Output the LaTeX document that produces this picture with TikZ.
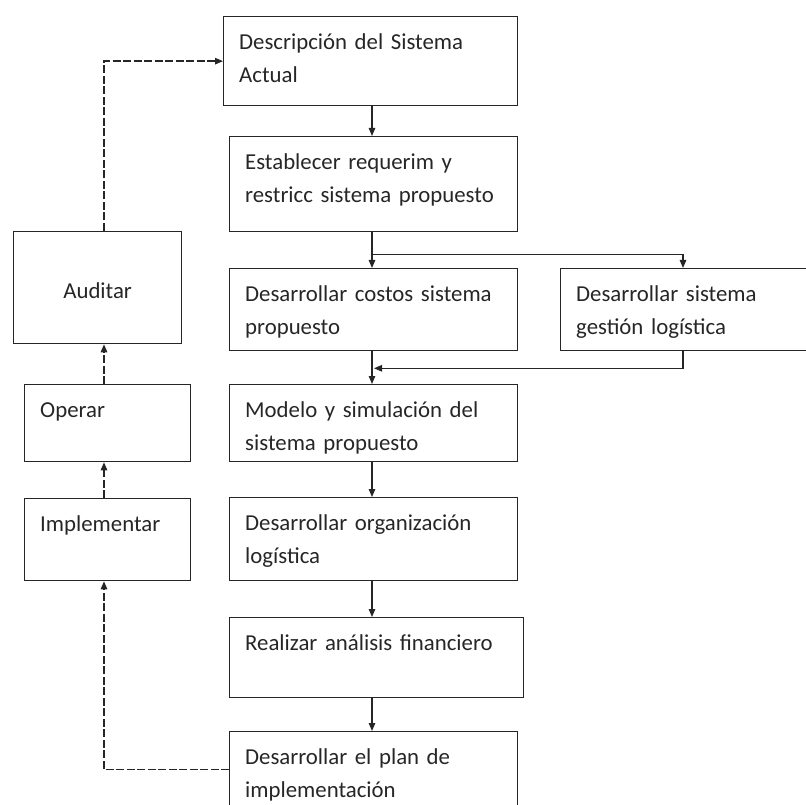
\documentclass[tikz,border=0pt]{standalone}
\usepackage{fontspec}
\setmainfont{Carlito}
\usetikzlibrary{arrows.meta,calc}
\definecolor{ink}{HTML}{262626}
\definecolor{txtc}{HTML}{262626}
\tikzset{
  box/.style={draw=ink, line width=1.3pt, rectangle, inner sep=0pt, anchor=north west},
  btext/.style={anchor=north west, inner sep=0pt, align=left, text=txtc,
    font=\fontsize{22.8}{33}\selectfont},
  flow/.style={draw=ink, line width=1.3pt, -{Triangle[length=8pt,width=6.5pt]}},
  back/.style={draw=ink, line width=1.3pt, dash pattern=on 8pt off 2.5pt,
    -{Triangle[length=8pt,width=6.5pt]}},
}
% a named rectangle with its text set at the upper left
\newcommand\stepcard[6]{%
  \node[box, minimum width=#4pt, minimum height=#5pt] (#1) at (#2,#3) {};
  \node[btext, text width=#4pt-18pt] (#1-t) at ($(#1.north west)+(16,10)$) {\strut #6};
}
\begin{document}
\begin{tikzpicture}[x=1pt,y=-1pt]
\useasboundingbox (0,0) rectangle (806,805);
\clip (0,0) rectangle (806,805);

% main column
\stepcard{desc}{223}{16}{294}{89}{Descripción del Sistema\\Actual}
\stepcard{req}{229}{136}{288}{95}{Establecer requerim y\\restricc sistema propuesto}
\stepcard{cost}{229}{268}{288}{82}{Desarrollar costos sistema\\propuesto}
\stepcard{gest}{560}{268}{260}{82}{Desarrollar sistema\\gestión logística}
\stepcard{mod}{229}{384}{288}{77}{Modelo y simulación del\\sistema propuesto}
\stepcard{org}{229}{497}{288}{83}{Desarrollar organización\\logística}
\stepcard{fin}{229}{617}{294}{80}{Realizar análisis financiero}
\stepcard{plan}{229}{731}{288}{76}{Desarrollar el plan de\\implementación}

% feedback column
\node[box, minimum width=168pt, minimum height=112pt] (aud) at (13,231) {};
\node[btext, anchor=base, align=center] (aud-t) at ($(aud.center)+(0,11)$) {Auditar};
\stepcard{oper}{24}{384}{166}{77}{Operar}
\stepcard{impl}{24}{498}{166}{82}{Implementar}

% forward connectors along the main axis
\coordinate (axis) at (372,0);
\coordinate (side) at (683,0);
\draw[flow] (desc.south -| axis) -- (req.north -| axis);
\coordinate (split) at ($(req.south -| axis)+(0,22)$);
\draw[flow] (req.south -| axis) -- (cost.north -| axis);
\draw[flow] (split) -| (gest.north -| side);
\coordinate (join) at ($(cost.south -| axis)+(0,17)$);
\draw[flow] (cost.south -| axis) -- (mod.north -| axis);
\draw[flow] (gest.south -| side) |- ($(join)+(2,0)$);
\draw[flow] (mod.south -| axis) -- (org.north -| axis);
\draw[flow] (org.south -| axis) -- (fin.north -| axis);
\draw[flow] (fin.south -| axis) -- (plan.north -| axis);

% feedback connectors
\coordinate (spine) at (104,0);
\draw[back] (plan.west) -| (impl.south -| spine);
\draw[back] (impl.north -| spine) -- (oper.south -| spine);
\draw[back] (oper.north -| spine) -- (aud.south -| spine);
\draw[back] (aud.north -| spine) |- (desc.west);
\end{tikzpicture}
\end{document}
